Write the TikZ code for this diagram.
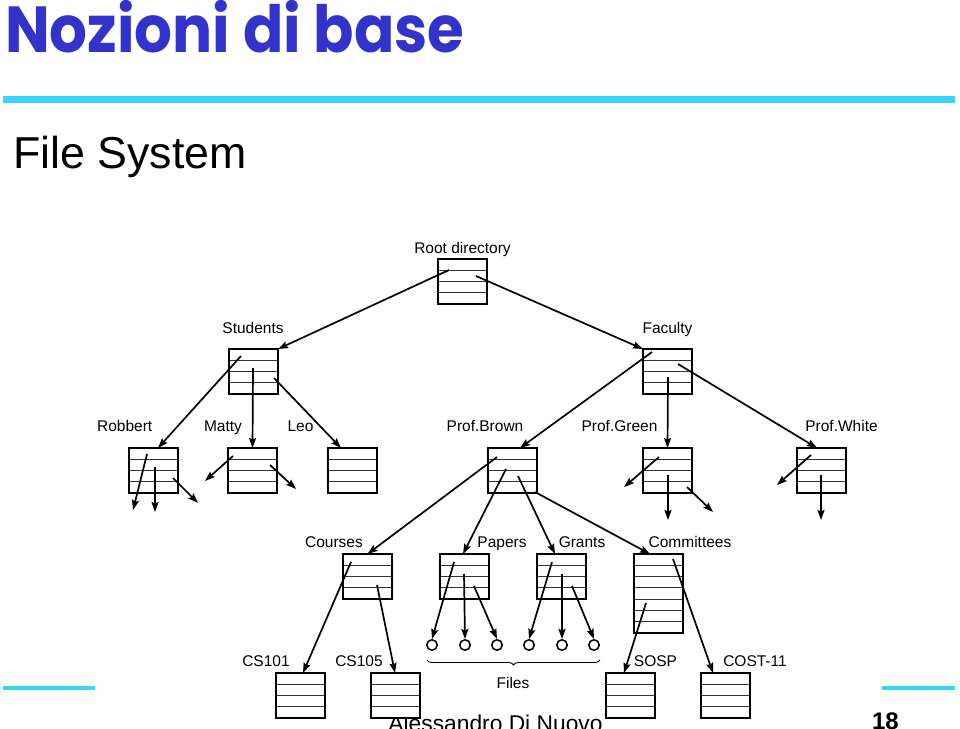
\documentclass[tikz,border=0pt]{standalone}
\usepackage{fontspec}
\setmainfont{Liberation Sans}
\newfontfamily\titlefont{Poppins}
\usetikzlibrary{arrows.meta,calc,decorations.pathreplacing}
\definecolor{titleblue}{RGB}{51,51,204}
\definecolor{barcyan}{RGB}{58,212,250}
\begin{document}
\begin{tikzpicture}[x=1pt,y=-1pt,
  dirbox/.style={draw, line width=1.8pt, fill=white, minimum width=49pt,
    minimum height=#1*11.25pt, inner sep=0pt, outer sep=0pt, anchor=north west,
    path picture={\foreach \i in {1,...,#1}{\draw[line width=0.9pt,black!80]
      ($(path picture bounding box.north west)!{\i/#1}!(path picture bounding box.south west)$) --
      ($(path picture bounding box.north east)!{\i/#1}!(path picture bounding box.south east)$);}}},
  dirbox/.default=4,
  lbl/.style={font=\fontsize{15.5}{18}\selectfont, anchor=base, inner sep=0pt},
  arr/.style={line width=1.7pt, -{Stealth[length=10pt,width=7pt,inset=1.5pt]}},
  filec/.style={circle, draw, line width=1.5pt, minimum size=10.5pt, inner sep=0pt, fill=white},
]
\path[use as bounding box] (0,0) rectangle (960,728);
\clip (0,0) rectangle (960,728);
% header
\node[anchor=base west, inner sep=0pt, text=titleblue,
  font=\titlefont\bfseries\fontsize{62}{70}\selectfont] (title) at (5,52) {\scalebox{0.96}[1.05]{Nozioni di base}};
\fill[barcyan] (3,96) rectangle (955,103);
\node[anchor=base west, inner sep=0pt, font=\fontsize{44.7}{50}\selectfont] (sub) at (13,168) {File System};
% footer
\fill[barcyan] (3,686) rectangle (95,690);
\fill[barcyan] (882,686) rectangle (955,690);
\node[anchor=base, inner sep=0pt, font=\fontsize{22.8}{26}\selectfont] (author) at (495.5,731) {Alessandro Di Nuovo};
\node[anchor=base east, inner sep=0pt, font=\bfseries\fontsize{24}{28}\selectfont] (page) at (899,729) {18};
% labels
\node[lbl] (lroot) at (462.5,253) {Root directory};
\node[lbl] (lstud) at (253,333) {Students};
\node[lbl] (lfac) at (667.5,333) {Faculty};
\node[lbl] (lrob) at (124.7,431.5) {Robbert};
\node[lbl] (lmat) at (223,431.5) {Matty};
\node[lbl] (lleo) at (300.5,431.5) {Leo};
\node[lbl] (lbrown) at (485,431.5) {Prof.Brown};
\node[lbl] (lgreen) at (619.5,431.5) {Prof.Green};
\node[lbl] (lwhite) at (841.5,431.5) {Prof.White};
\node[lbl] (lcourses) at (334,547.3) {Courses};
\node[lbl] (lpapers) at (502,547.3) {Papers};
\node[lbl] (lgrants) at (582,547.3) {Grants};
\node[lbl] (lcomm) at (690,547.3) {Committees};
\node[lbl] (lcs1) at (266,666) {CS101};
\node[lbl] (lcs5) at (359,666) {CS105};
\node[lbl] (lsosp) at (655.5,666) {SOSP};
\node[lbl] (lcost) at (755,666) {COST-11};
\node[lbl] (lfiles) at (513,688) {Files};
% boxes
\node[dirbox] (root) at (438,259) {};
\node[dirbox] (stud) at (229,349) {};
\node[dirbox] (fac) at (643,349) {};
\node[dirbox] (rob) at (129,448) {};
\node[dirbox] (mat) at (228,448) {};
\node[dirbox] (leo) at (328,448) {};
\node[dirbox] (brown) at (488,448) {};
\node[dirbox] (green) at (643,448) {};
\node[dirbox] (white) at (797,448) {};
\node[dirbox] (courses) at (343,554) {};
\node[dirbox] (papers) at (440,554) {};
\node[dirbox] (grants) at (537,554) {};
\node[dirbox=7] (comm) at (634,554) {};
\node[dirbox] (cs101) at (276,673) {};
\node[dirbox] (cs105) at (371,673) {};
\node[dirbox] (sosp) at (606,673) {};
\node[dirbox] (cost) at (701,673) {};
% files
\node[filec] (f1) at (432,645) {};
\node[filec] (f2) at (465,645) {};
\node[filec] (f3) at (497,645) {};
\node[filec] (f4) at (529,645) {};
\node[filec] (f5) at (562,645) {};
\node[filec] (f6) at (594,645) {};
\draw[decorate, decoration={brace, amplitude=5pt, mirror}, line width=0.9pt] (427,660) -- (600,660);
% free ends
\coordinate (r1) at (133,510);
\coordinate (r2) at (155,512);
\coordinate (r3) at (198,503);
\coordinate (m1) at (205,481);
\coordinate (m2) at (296,489);
\coordinate (g1) at (624,487);
\coordinate (g2) at (668,520);
\coordinate (g3) at (713,512);
\coordinate (w1) at (777,485);
\coordinate (w2) at (821,520);
% connectors
\draw[arr] ([shift={(11,11)}]root.north west) -- (stud.north east);
\draw[arr] ([shift={(38,17)}]root.north west) -- (fac.north west);
\draw[arr] ([shift={(12,7)}]stud.north west) -- ([xshift=29pt]rob.north west);
\draw[arr] ([shift={(24,19)}]stud.north west) -- (mat.north);
\draw[arr] ([shift={(45,29)}]stud.north west) -- ([xshift=13pt]leo.north west);
\draw[arr] ([shift={(9,3)}]fac.north west) -- ([xshift=32pt]brown.north west);
\draw[arr] ([shift={(25,28)}]fac.north west) -- (green.north);
\draw[arr] ([shift={(35,15)}]fac.north west) -- ([xshift=20pt]white.north west);
\draw[arr] ([shift={(18,6)}]rob.north west) -- (r1);
\draw[arr] ([shift={(26,19)}]rob.north west) -- (r2);
\draw[arr] ([shift={(44,30)}]rob.north west) -- (r3);
\draw[arr] ([shift={(5,8)}]mat.north west) -- (m1);
\draw[arr] ([shift={(42,17)}]mat.north west) -- (m2);
\draw[arr] ([shift={(16,9)}]green.north west) -- (g1);
\draw[arr] ([shift={(25,27)}]green.north west) -- (g2);
\draw[arr] ([shift={(44,39)}]green.north west) -- (g3);
\draw[arr] ([shift={(14,7)}]white.north west) -- (w1);
\draw[arr] ([shift={(24,27)}]white.north west) -- (w2);
\draw[arr] ([shift={(9,9)}]brown.north west) -- (courses.north);
\draw[arr] ([shift={(18,21)}]brown.north west) -- ([xshift=23pt]papers.north west);
\draw[arr] ([shift={(30,28)}]brown.north west) -- ([xshift=18pt]grants.north west);
\draw[arr] ([shift={(47,44)}]brown.north west) -- ([xshift=16pt]comm.north west);
\draw[arr] ([shift={(8,8)}]courses.north west) -- ([xshift=27pt]cs101.north west);
\draw[arr] ([shift={(34,31)}]courses.north west) -- ([xshift=24pt]cs105.north west);
\draw[arr] ([shift={(14,8)}]papers.north west) -- (f1.north);
\draw[arr] ([shift={(24,20)}]papers.north west) -- (f2.north);
\draw[arr] ([shift={(34,32)}]papers.north west) -- (f3.north);
\draw[arr] ([shift={(15,8)}]grants.north west) -- (f4.north);
\draw[arr] ([shift={(25,20)}]grants.north west) -- (f5.north);
\draw[arr] ([shift={(35,32)}]grants.north west) -- (f6.north);
\draw[arr] ([shift={(12,49)}]comm.north west) -- ([xshift=18pt]sosp.north west);
\draw[arr] ([shift={(39,5)}]comm.north west) -- ([xshift=12pt]cost.north west);
\end{tikzpicture}
\end{document}
